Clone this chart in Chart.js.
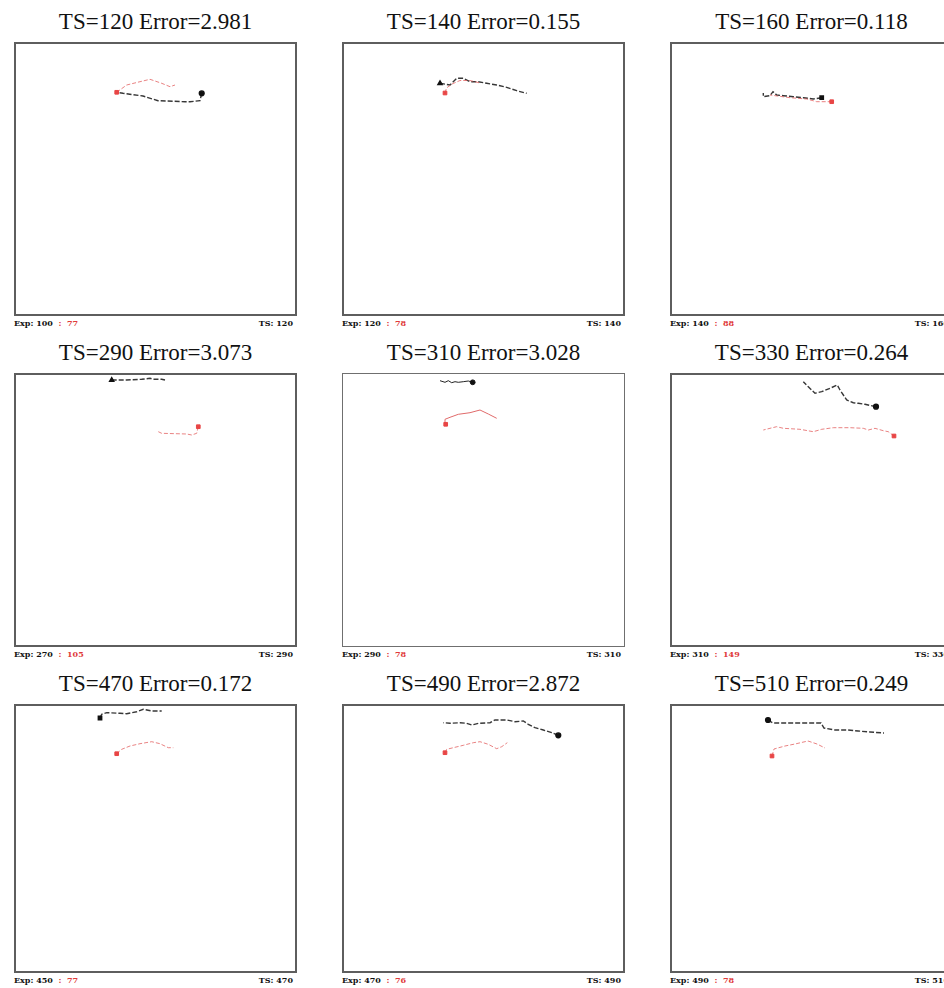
<!DOCTYPE html>
<html><head><meta charset="utf-8">
<script src="https://cdn.jsdelivr.net/npm/chart.js@4"></script>
<style>
body{margin:0;background:#fff;width:944px;height:988px;overflow:hidden;position:relative;font-family:"Liberation Serif","Times New Roman",serif}
.title{position:absolute;font-size:23px;line-height:26px;text-align:center;white-space:nowrap;color:#111}
.lab{position:absolute;font:bold 8px "DejaVu Serif",serif;line-height:10px;white-space:nowrap;color:#111}
.lab .r{color:#e03a3a}
canvas{position:absolute}
</style></head><body>
<script>
// ---- data ----
const tsValues   = [120, 140, 160, 290, 310, 330, 470, 490, 510];
const errors     = ["2.981", "0.155", "0.118", "3.073", "3.028", "0.264", "0.172", "2.872", "0.249"];
const expValues  = [100, 120, 140, 270, 290, 310, 450, 470, 490];
const expCounts  = [77, 78, 88, 105, 78, 149, 77, 76, 78];

// trajectories, [x, y] in box units (y down); first point = marked end
const black120 = [[187.7,51.3],[186,58.7],[176,59.7],[171,59.7],[144,58.7],[129,54],[109,51.3],[102.7,50.3]];
const red120   = [[102.7,50.3],[112.7,43],[126,39.7],[136,37.3],[147.7,41.3],[156,44.7],[161,43]];
const black140 = [[98,41.3],[108,43],[114.7,36.3],[121.3,36.3],[128,39.7],[136,39.7],[144.7,41.3],[154.7,43],[164.7,45.3],[174.7,48.7],[184.7,51.3]];
const red140   = [[103,51],[104.5,46],[110,42],[118,38.5],[128,38.5],[138,41]];
const black160 = [[151.7,55.7],[143.3,57],[133.3,55.7],[123.3,54.7],[113.3,53.7],[106.7,53],[103,49.7],[100,53.7],[93.3,54.7],[93.3,51]];
const red160   = [[161.7,59.7],[146.7,59.7],[136.7,57],[120,55.7],[100,53]];
const black290 = [[97.7,7],[106,7],[112.7,7],[127.7,6.3],[136,5.3],[139.3,6.3],[147.7,6.3],[151,7]];
const red290   = [[184.3,53.7],[182.7,60.3],[177.7,62],[172.7,61],[147.7,60.3],[144.3,58.7]];
const black310 = [[130.7,9.3],[126.3,8],[121.3,8.7],[116.3,9.3],[113,8.7],[109.7,9.7],[106.3,7.7],[103,9.3],[98,7.7]];
const red310   = [[103.7,51.3],[103,46.3],[108,44.3],[116.3,41.3],[128,39.7],[138,37],[146.3,41],[154.7,45.3]];
const black330 = [[206,33.7],[195,31.3],[188.3,30.3],[183.3,29.7],[176.7,27],[170,17],[167.3,12],[160,15.3],[151.7,18.7],[145,20.3],[138.3,13.7],[133.3,8.7]];
const red330   = [[224,63],[218.3,58.7],[213.3,57.7],[205,55.3],[198.3,57],[193.3,55.3],[180,54.7],[163.3,54.7],[151.7,56.3],[143.3,58.7],[130,56.3],[113.3,55.3],[106.7,53.7],[100,55.3],[93.3,57]];
const black470 = [[86,14],[87.7,10.3],[92.7,8.7],[106,9.3],[112.7,9.7],[122.7,7.7],[129.3,5.3],[137.7,7],[147.7,7]];
const red470   = [[102.7,49.7],[107.7,45.3],[116,42],[126,39.7],[137.7,37.7],[146,39.7],[154.3,43.7],[159.3,43.7]];
const black490 = [[216.3,31.3],[209.7,28.7],[201.3,26],[193,23.7],[186.3,20.3],[181.3,17],[173,17.7],[164.7,16],[153,16],[148,18.7],[136.3,19.3],[129.7,21],[124.7,19.3],[118,18.7],[108,19.3],[101.3,18.7]];
const red490   = [[103,48.7],[104.7,45.3],[111.3,43.7],[121.3,41.3],[131.3,38.7],[138,37.7],[146.3,40.3],[154.7,44.7],[159.7,42.7],[165.3,38.7]];
const black510 = [[98,16],[103,19],[115,19],[128,19],[151,19],[154,24],[165,26],[178,26],[188,27],[200,28],[214,29]];
const red510   = [[102,52],[104,45],[115,42],[125,40],[138,37],[147,40],[155,44]];

const blackSeries = [black120, black140, black160, black290, black310, black330, black470, black490, black510];
const redSeries   = [red120, red140, red160, red290, red310, red330, red470, red490, red510];

// ---- layout ----
const colLeft = [14, 342, 670];
const rowTop  = [42, 373, 704];
const rowH    = [274, 274, 269];
const boxW = 283;
const blackMarker = ['circle','triangle','rect','triangle','circle','circle','rect','circle','circle'];

const boxPlugin = {
  id: 'box',
  afterDraw(chart, args, opts) {
    const {ctx, chartArea: a} = chart;
    ctx.save();
    ctx.strokeStyle = opts.color;
    ctx.lineWidth = opts.width;
    const h = opts.width / 2;
    ctx.strokeRect(a.left + h, a.top + h, a.right - a.left - opts.width, a.bottom - a.top - opts.width);
    ctx.restore();
  }
};

for (let i = 0; i < 9; i++) {
  const c = i % 3, r = Math.floor(i / 3);
  const L = colLeft[c], T = rowTop[r], H = rowH[r];
  const clear = (i === 4);

  const t = document.createElement('div');
  t.className = 'title';
  t.style.left = L + 'px'; t.style.width = boxW + 'px'; t.style.top = (T - 33) + 'px';
  t.textContent = 'TS=' + tsValues[i] + ' Error=' + errors[i];
  document.body.appendChild(t);

  const l1 = document.createElement('div');
  l1.className = 'lab';
  l1.style.left = L + 'px'; l1.style.top = (T + H + 2) + 'px';
  l1.innerHTML = 'Exp: ' + expValues[i] + ' <span class="r">&nbsp;:&nbsp;&nbsp;' + expCounts[i] + '</span>';
  document.body.appendChild(l1);

  const l2 = document.createElement('div');
  l2.className = 'lab';
  l2.style.left = (L + boxW - 80) + 'px'; l2.style.width = '76px'; l2.style.textAlign = 'right';
  l2.style.top = (T + H + 2) + 'px';
  l2.textContent = 'TS: ' + tsValues[i];
  document.body.appendChild(l2);

  const cv = document.createElement('canvas');
  cv.style.left = L + 'px'; cv.style.top = T + 'px';
  cv.style.width = boxW + 'px'; cv.style.height = H + 'px';
  cv.width = boxW; cv.height = H;
  document.body.appendChild(cv);

  const toXY = arr => arr.map(p => ({x: p[0], y: p[1]}));
  const markR = (rad) => (ctx) => ctx.dataIndex === 0 ? rad : 0;

  new Chart(cv, {
    type: 'line',
    data: {
      datasets: [
        {
          data: toXY(redSeries[i]),
          borderColor: clear ? '#e06a6a' : 'rgba(225,90,90,0.75)',
          borderWidth: 1,
          borderDash: clear ? [] : [4, 2],
          pointStyle: 'rect',
          pointRadius: markR(2.6),
          pointBackgroundColor: '#e84545',
          pointBorderColor: '#e84545',
          tension: 0
        },
        {
          data: toXY(blackSeries[i]),
          borderColor: clear ? '#222' : 'rgba(20,20,20,0.85)',
          borderWidth: clear ? 1 : 1.4,
          borderDash: clear ? [] : [5, 2],
          pointStyle: blackMarker[i],
          pointRadius: markR(2.4),
          pointBackgroundColor: '#111',
          pointBorderColor: '#111',
          tension: 0
        }
      ]
    },
    options: {
      responsive: false,
      animation: false,
      devicePixelRatio: 1,
      layout: {padding: 0, autoPadding: false},
      scales: {
        x: {type: 'linear', min: 0, max: boxW, display: false},
        y: {type: 'linear', min: 0, max: H, reverse: true, display: false}
      },
      plugins: {
        legend: {display: false},
        tooltip: {enabled: false},
        box: {color: clear ? '#6f6f6f' : '#5e5e5e', width: clear ? 1 : 2}
      }
    },
    plugins: [boxPlugin]
  });
}
</script>
</body></html>
